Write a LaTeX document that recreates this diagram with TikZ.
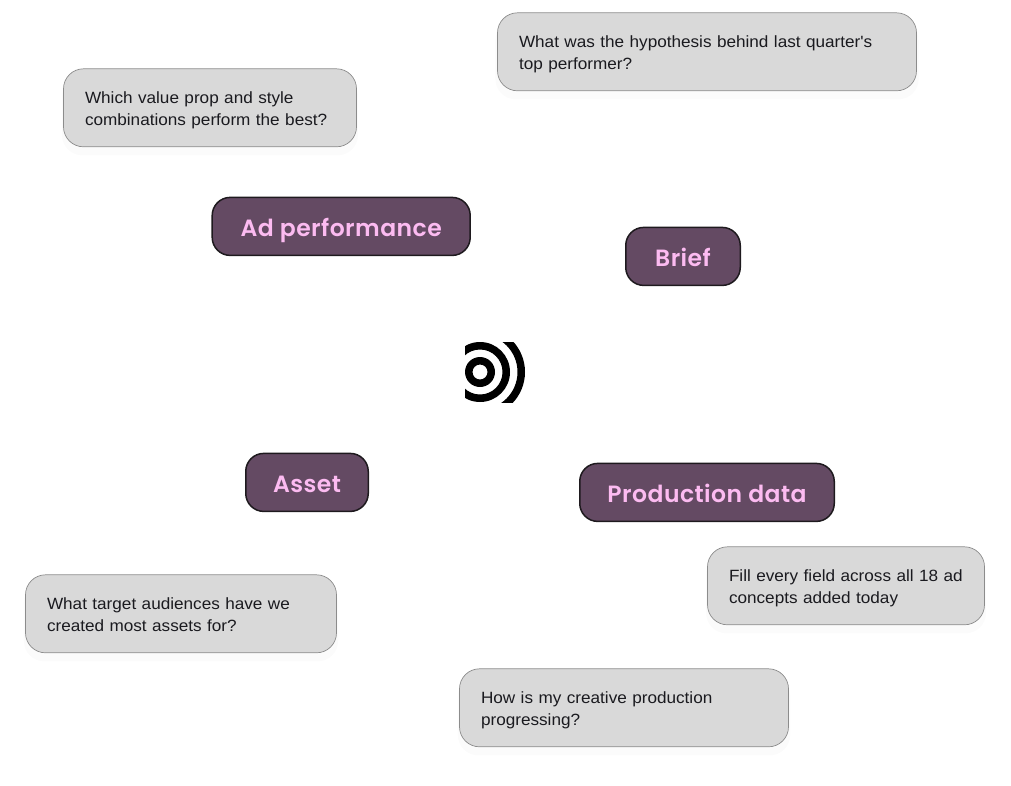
\documentclass[tikz,border=0pt]{standalone}
\usepackage{fontspec}
\newfontfamily\qfont[FakeStretch=1.052]{Liberation Sans}
\newfontfamily\tagfont[LetterSpace=2]{Poppins SemiBold}
\usetikzlibrary{shadows}
\definecolor{qfill}{HTML}{D9D9D9}
\definecolor{qline}{HTML}{8C8C8C}
\definecolor{tfill}{HTML}{644A63}
\definecolor{tline}{HTML}{1E1A1E}
\definecolor{ttext}{HTML}{FCBBF1}
\definecolor{qtext}{HTML}{1A1A1F}
\tikzset{
  qbox/.style n args={2}{draw=qline,line width=0.7pt,fill=qfill,rounded corners=20pt,
    minimum width=#1 pt,minimum height=#2 pt,inner sep=0pt,text width=#1 pt-43pt,align=left,
    text=qtext,font=\qfont\fontsize{16.3}{22}\selectfont,
    execute at begin node={\rule{0pt}{16pt}},
    execute at end node={\rule[-3.6pt]{0pt}{3.6pt}},
    general shadow={fill=black,opacity=0.014,shadow yshift=-8pt,shadow scale=1.01}},
  tagbox/.style n args={2}{draw=tline,line width=1.5pt,fill=tfill,rounded corners=18pt,
    minimum width=#1 pt,minimum height=#2 pt,inner sep=0pt,text height=22pt,text depth=1pt,
    text=ttext,font=\tagfont\fontsize{23.5}{26}\selectfont},
}
\begin{document}
\begin{tikzpicture}[x=1pt,y=-1pt]
\useasboundingbox (0,0) rectangle (1011,785);
\node[qbox={293}{78}] (q1) at (210,107.8) {\mbox{Which value prop and style}\\\mbox{combinations perform the best?}};
\node[qbox={419}{78}] (q2) at (707,51.8) {\mbox{What was the hypothesis behind last quarter's}\\top performer?};
\node[qbox={311}{78}] (q3) at (181,613.8) {\mbox{What target audiences have we}\\created most assets for?};
\node[qbox={277}{78}] (q4) at (846,585.8) {\mbox{Fill every field across all 18 ad}\\concepts added today};
\node[qbox={329}{78}] (q5) at (624,707.8) {\mbox{How is my creative production}\\progressing?};
\node[tagbox={258}{58}] (t1) at (341.2,226.4) {Ad performance};
\node[tagbox={114.5}{58}] (t2) at (683,256.4) {Brief};
\node[tagbox={122.5}{58}] (t3) at (307,482.4) {Asset};
\node[tagbox={254.5}{58}] (t4) at (707,492.4) {Production data};
% logo
\begin{scope}
\clip (465,342) rectangle (530,402);
\fill[black,even odd rule] (480,372) circle (15) (480,372) circle (7.5);
\fill[black,even odd rule] (480,372) circle (30) (480,372) circle (22.5);
\fill[black,even odd rule] (480,372) circle (45) (480,372) circle (37.5);
\end{scope}
\end{tikzpicture}
\end{document}
